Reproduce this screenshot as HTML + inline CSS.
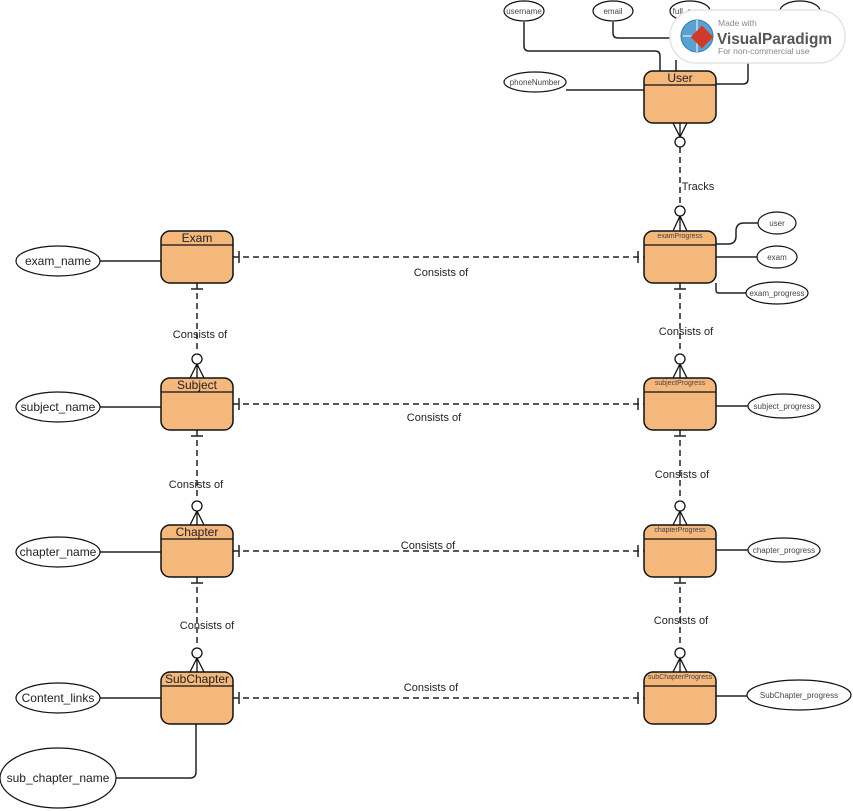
<!DOCTYPE html>
<html><head><meta charset="utf-8"><style>
html,body{margin:0;padding:0;background:#fff;}
svg{display:block;font-family:"Liberation Sans",Arial,sans-serif;}
</style></head><body>
<svg width="853" height="811" viewBox="0 0 853 811" xmlns="http://www.w3.org/2000/svg">
<defs>
<g id="ent"><rect x="0" y="0" width="72" height="52" rx="9" fill="#f4b77c" stroke="#111" stroke-width="1.5"/><line x1="0" y1="14" x2="72" y2="14" stroke="#111" stroke-width="1.3"/></g>
</defs>
<g fill="none" stroke="#222" stroke-width="1.5">
<path d="M524 22 V46 q0 5 5 5 H655 q5 0 5 5 V71"/>
<path d="M613 22 V33 q0 5 5 5 H670"/>
<path d="M676 60 V71"/>
<path d="M566 90 H644"/>
<path d="M748 60 V79 q0 5 -5 5 H716"/>
<path d="M100 261 H161"/><path d="M100 407 H161"/><path d="M100 552 H161"/><path d="M100 698 H161"/>
<path d="M116 778 H190 q6 0 6 -6 V724"/>
<path d="M716 244 H728 q8 0 8 -8 V231 q0 -8 8 -8 H758"/>
<path d="M716 257 H758"/>
<path d="M716 283 V290 q0 3 3 3 H746"/>
<path d="M716 406 H748"/><path d="M716 550 H748"/><path d="M716 696 H747"/>
</g>
<g stroke="#222" stroke-width="1.5" stroke-dasharray="6,4" fill="none">
<path d="M233 257 H644"/><path d="M233 404 H644"/><path d="M233 551 H644"/><path d="M233 698 H644"/>
<path d="M197 283 V353"/><path d="M197 430 V500"/><path d="M197 577 V647"/>
<path d="M680 283 V353"/><path d="M680 430 V500"/><path d="M680 577 V647"/>
<path d="M680 147 V206"/>
</g>
<g stroke="#222" stroke-width="1.5" fill="none">
<path d="M239 251 V263 M638 251 V263"/>
<path d="M239 398 V410 M638 398 V410"/>
<path d="M239 545 V557 M638 545 V557"/>
<path d="M239 692 V704 M638 692 V704"/>
<path d="M191 289 H203 M674 289 H686"/>
<path d="M191 436 H203 M674 436 H686"/>
<path d="M191 583 H203 M674 583 H686"/>
</g>
<g stroke="#111" stroke-width="1.3" fill="#fff">
<circle cx="197" cy="359" r="5"/><circle cx="197" cy="506" r="5"/><circle cx="197" cy="653" r="5"/>
<circle cx="680" cy="359" r="5"/><circle cx="680" cy="506" r="5"/><circle cx="680" cy="653" r="5"/>
<circle cx="680" cy="142" r="5"/><circle cx="680" cy="211" r="5"/>
</g>
<g stroke="#111" stroke-width="1.3" fill="none">
<path d="M197 364 L190 378 M197 364 L204 378 M197 364 V378"/>
<path d="M197 511 L190 525 M197 511 L204 525 M197 511 V525"/>
<path d="M197 658 L190 672 M197 658 L204 672 M197 658 V672"/>
<path d="M680 364 L673 378 M680 364 L687 378 M680 364 V378"/>
<path d="M680 511 L673 525 M680 511 L687 525 M680 511 V525"/>
<path d="M680 658 L673 672 M680 658 L687 672 M680 658 V672"/>
<path d="M680 216 L673 231 M680 216 L687 231 M680 216 V231"/>
<path d="M680 137 L673 123 M680 137 L687 123 M680 137 V123"/>
</g>
<use href="#ent" x="161" y="231"/><use href="#ent" x="161" y="378"/><use href="#ent" x="161" y="525"/><use href="#ent" x="161" y="672"/>
<use href="#ent" x="644" y="71"/><use href="#ent" x="644" y="231"/><use href="#ent" x="644" y="378"/><use href="#ent" x="644" y="525"/><use href="#ent" x="644" y="672"/>
<g font-size="12" fill="#222" text-anchor="middle">
<text x="197" y="242">Exam</text><text x="197" y="389">Subject</text><text x="197" y="536">Chapter</text><text x="197" y="683">SubChapter</text>
<text x="680" y="82">User</text>
</g>
<g font-size="7" fill="#444" text-anchor="middle">
<text x="680" y="238">examProgress</text><text x="680" y="385">subjectProgress</text><text x="680" y="532">chapterProgress</text><text x="680" y="679">subChapterProgress</text>
</g>
<g fill="#fff" stroke="#111" stroke-width="1.2">
<ellipse cx="524" cy="11" rx="20" ry="10"/><ellipse cx="613" cy="11" rx="20" ry="10"/><ellipse cx="690" cy="11" rx="20" ry="10"/><ellipse cx="800" cy="11" rx="20" ry="10"/>
<ellipse cx="535" cy="82" rx="31" ry="10"/>
<ellipse cx="58" cy="261" rx="42" ry="15"/><ellipse cx="58" cy="407" rx="42" ry="15"/><ellipse cx="58" cy="552" rx="42" ry="15"/><ellipse cx="58" cy="698" rx="42" ry="15"/>
<ellipse cx="58" cy="778" rx="58" ry="30"/>
<ellipse cx="777" cy="223" rx="19" ry="11"/><ellipse cx="777" cy="257" rx="20" ry="11"/><ellipse cx="777" cy="293" rx="31" ry="11"/>
<ellipse cx="784" cy="406" rx="36" ry="12"/><ellipse cx="784" cy="550" rx="36" ry="12"/><ellipse cx="799" cy="695" rx="52" ry="15"/>
</g>
<g font-size="12" fill="#222" text-anchor="middle">
<text x="58" y="265">exam_name</text><text x="58" y="411">subject_name</text><text x="58" y="556">chapter_name</text><text x="58" y="702">Content_links</text><text x="58" y="782">sub_chapter_name</text>
</g>
<g font-size="8" fill="#444" text-anchor="middle">
<text x="524" y="14">username</text><text x="613" y="14">email</text><text x="690" y="14">full_name</text>
<text x="535" y="85">phoneNumber</text>
<text x="777" y="226">user</text><text x="777" y="260">exam</text><text x="777" y="296">exam_progress</text>
<text x="784" y="409">subject_progress</text><text x="784" y="553">chapter_progress</text><text x="799" y="698">SubChapter_progress</text>
</g>
<g font-size="11" fill="#222" text-anchor="middle">
<text x="441" y="276">Consists of</text><text x="434" y="421">Consists of</text><text x="428" y="549">Consists of</text><text x="431" y="691">Consists of</text>
<text x="200" y="338">Consists of</text><text x="196" y="488">Consists of</text><text x="207" y="629">Consists of</text>
<text x="686" y="335">Consists of</text><text x="682" y="478">Consists of</text><text x="681" y="624">Consists of</text>
<text x="698" y="190">Tracks</text>
</g>
<rect x="670" y="10" width="175" height="53" rx="26" fill="#fff" stroke="#e4e4e4" stroke-width="1.5"/>
<circle cx="697" cy="36" r="16" fill="#5aa0d0" stroke="#3a7cb0"/>
<path d="M683 36 H711 M697 20 V52" stroke="#fff" stroke-width="1"/>
<rect x="694" y="29" width="16" height="16" fill="#d03a2a" transform="rotate(45 702 37)"/>
<text x="718" y="26" font-size="8.5" fill="#888">Made with</text>
<text x="717" y="44" font-size="16" font-weight="bold" fill="#555" textLength="115" lengthAdjust="spacingAndGlyphs">VisualParadigm</text>
<text x="718" y="54" font-size="8.5" fill="#888">For non-commercial use</text>
</svg>
</body></html>
